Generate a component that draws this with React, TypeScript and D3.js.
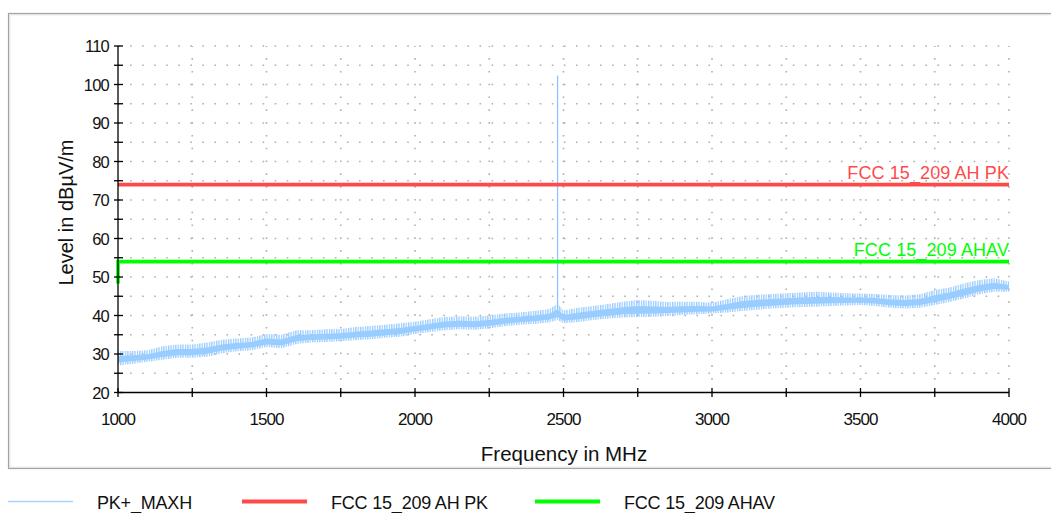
import React from 'react';
import * as d3 from 'd3';

// ---- data ----
const traceFreq = [
  1000, 1050, 1100, 1150, 1200, 1250, 1300, 1350, 1400, 1450,
  1500, 1550, 1600, 1650, 1700, 1750, 1800, 1850, 1900, 1950,
  2000, 2050, 2100, 2150, 2200, 2250, 2300, 2350, 2400, 2450,
  2480, 2500, 2550, 2600, 2650, 2700, 2750, 2800, 2850, 2900,
  2950, 3000, 3050, 3100, 3150, 3200, 3250, 3300, 3350, 3400,
  3450, 3500, 3550, 3600, 3650, 3700, 3750, 3800, 3850, 3900,
  3950, 4000,
];
const traceLow = [
  27.0, 27.5, 28.0, 28.5, 29.0, 29.0, 29.3, 30.2, 30.7, 31.0,
  31.8, 31.5, 32.6, 33.0, 33.1, 33.3, 33.6, 33.8, 34.2, 34.5,
  35.2, 35.7, 36.2, 36.4, 36.3, 36.6, 37.2, 37.6, 37.8, 38.2,
  38.8, 38.0, 38.3, 38.8, 39.2, 39.5, 39.6, 39.7, 39.9, 40.1,
  40.3, 40.5, 40.8, 41.2, 41.5, 41.8, 42.0, 42.2, 42.3, 42.5,
  42.6, 42.7, 42.5, 42.0, 41.8, 42.0, 42.7, 43.5, 44.4, 45.5,
  46.2, 46.2,
];
const traceHigh = [
  30.8, 30.8, 31.0, 32.0, 32.5, 32.5, 33.0, 33.7, 34.0, 34.3,
  35.2, 35.0, 36.2, 36.2, 36.4, 36.5, 37.0, 37.3, 37.6, 38.0,
  38.4, 39.0, 39.6, 39.8, 39.7, 40.0, 40.5, 40.8, 41.2, 41.6,
  43.0, 41.3, 42.0, 42.5, 43.0, 43.6, 44.0, 43.8, 43.5, 43.6,
  43.6, 43.3, 44.2, 45.0, 45.4, 45.6, 45.8, 46.0, 46.2, 46.0,
  45.8, 45.7, 45.6, 45.3, 45.2, 45.5, 46.6, 47.3, 48.4, 49.2,
  49.7, 48.8,
];
const peakFreq = [2480, 2480];
const peakLevel = [41.5, 102.3];

const pkLimitFreq = [1000, 4000];
const pkLimitLevel = [74, 74];
const avLimitFreq = [1000, 1000, 4000];
const avLimitLevel = [48.3, 54, 54];

const xTickLabels = [1000, 1500, 2000, 2500, 3000, 3500, 4000];
const xTicksAll = [1000, 1250, 1500, 1750, 2000, 2250, 2500, 2750, 3000, 3250, 3500, 3750, 4000];
const yTickLabels = [20, 30, 40, 50, 60, 70, 80, 90, 100, 110];
const yTicksAll = [20, 25, 30, 35, 40, 45, 50, 55, 60, 65, 70, 75, 80, 85, 90, 95, 100, 105, 110];
const xGrid = [1250, 1500, 1750, 2000, 2250, 2500, 2750, 3000, 3250, 3500, 3750, 4000];
const yGrid = [25, 30, 35, 40, 45, 50, 55, 60, 65, 70, 75, 80, 85, 90, 95, 100, 105, 110];

const legendNames = ['PK+_MAXH', 'FCC 15_209 AH PK', 'FCC 15_209 AHAV'];
const pkLabel = 'FCC 15_209 AH PK';
const avLabel = 'FCC 15_209 AHAV';

const TRACE = '#99ccff';
const RED = '#ff4a4a';
const GREEN = '#00ff00';
const FONT = '"Liberation Sans", Arial, Helvetica, sans-serif';

type Pt = { f: number; lo: number; hi: number };

export default function App() {
  const x = d3.scaleLinear().domain([1000, 4000]).range([118, 1009]);
  const y = d3.scaleLinear().domain([20, 110]).range([392.5, 46]);

  const band: Pt[] = traceFreq.map((f, i) => ({ f, lo: traceLow[i], hi: traceHigh[i] }));
  const outer = d3
    .area<Pt>()
    .x((d) => x(d.f))
    .y0((d) => y(d.lo))
    .y1((d) => y(d.hi));
  // dense body of the noise band (styling only)
  const inner = d3
    .area<Pt>()
    .x((d) => x(d.f))
    .y0((d) => y(d.lo + (d.hi - d.lo) * 0.2))
    .y1((d) => y(d.hi - (d.hi - d.lo) * 0.35));
  const line = d3
    .line<[number, number]>()
    .x((d) => x(d[0]))
    .y((d) => y(d[1]));

  const pkPts = pkLimitFreq.map((f, i) => [f, pkLimitLevel[i]] as [number, number]);
  const avPts = avLimitFreq.map((f, i) => [f, avLimitLevel[i]] as [number, number]);
  const peakPts = peakFreq.map((f, i) => [f, peakLevel[i]] as [number, number]);

  const legend = [
    { name: legendNames[0], color: '#a8d4ff', w: 1.5, x0: 8, tx: 97 },
    { name: legendNames[1], color: RED, w: 4, x0: 242, tx: 331 },
    { name: legendNames[2], color: GREEN, w: 4, x0: 535, tx: 624 },
  ];

  return (
    <svg
      width={1051}
      height={513}
      style={{ position: 'absolute', left: 0, top: 0, background: '#fff' }}
      fontFamily={FONT}
    >
      <defs>
        <pattern id="comb" width={2.4} height={6} patternUnits="userSpaceOnUse">
          <rect x={0} y={0} width={1.3} height={6} fill={TRACE} />
        </pattern>
      </defs>

      {/* frame */}
      <rect x={8.5} y={13.5} width={1050} height={455} fill="none" stroke="#a4a4a4" strokeWidth={1.2} />
      <rect x={9.8} y={14.8} width={1050} height={452.4} fill="none" stroke="#dedede" strokeWidth={1} />

      {/* grid */}
      {yGrid.map((v) => (
        <line
          key={'hg' + v}
          x1={x(1000)}
          x2={x(4000)}
          y1={y(v)}
          y2={y(v)}
          stroke="#b0b0b0"
          strokeWidth={1.6}
          strokeDasharray="1.6 10.45"
        />
      ))}
      {xGrid.map((v) => (
        <line
          key={'vg' + v}
          x1={x(v)}
          x2={x(v)}
          y1={y(20)}
          y2={y(110)}
          stroke="#b0b0b0"
          strokeWidth={1.6}
          strokeDasharray="1.6 11.2"
        />
      ))}

      {/* trace */}
      <path d={outer(band) || ''} fill="url(#comb)" />
      <path d={inner(band) || ''} fill={TRACE} />
      <path d={line(peakPts) || ''} fill="none" stroke="#8cc4ff" strokeWidth={1.3} />

      {/* limit lines */}
      <path d={line(pkPts) || ''} fill="none" stroke={RED} strokeWidth={3.6} />
      <path d={line(avPts) || ''} fill="none" stroke={GREEN} strokeWidth={3.6} />
      <text x={x(4000)} y={178.5} textAnchor="end" fontSize={18} fill={RED} letterSpacing={0.1}>
        {pkLabel}
      </text>
      <text x={x(4000)} y={256} textAnchor="end" fontSize={18} fill={GREEN} letterSpacing={0.1}>
        {avLabel}
      </text>

      {/* axes */}
      <line x1={x(1000)} x2={x(1000)} y1={y(110)} y2={y(20)} stroke="#000" strokeWidth={1.3} />
      <line x1={x(1000)} x2={x(4000)} y1={y(20)} y2={y(20)} stroke="#000" strokeWidth={1.3} />
      {yTicksAll.map((v) => (
        <line key={'yt' + v} x1={114} x2={123} y1={y(v)} y2={y(v)} stroke="#000" strokeWidth={1.3} />
      ))}
      {xTicksAll.map((v) => (
        <line key={'xt' + v} x1={x(v)} x2={x(v)} y1={388} y2={397} stroke="#000" strokeWidth={1.3} />
      ))}
      {yTickLabels.map((v) => (
        <text key={'yl' + v} x={109} y={y(v) + 6} textAnchor="end" fontSize={16.5} letterSpacing={-0.8} fill="#111">
          {v}
        </text>
      ))}
      {xTickLabels.map((v) => (
        <text key={'xl' + v} x={x(v)} y={425} textAnchor="middle" fontSize={17} letterSpacing={-0.9} fill="#111">
          {v}
        </text>
      ))}

      {/* axis titles */}
      <text x={564} y={460.5} textAnchor="middle" fontSize={20.5} fill="#111">
        Frequency in MHz
      </text>
      <text
        transform="translate(73,212.5) rotate(-90)"
        textAnchor="middle"
        fontSize={20}
        fill="#111"
      >
        Level in dBµV/m
      </text>

      {/* legend */}
      {legend.map((d) => (
        <g key={d.name}>
          <line x1={d.x0} x2={d.x0 + 65} y1={501.5} y2={501.5} stroke={d.color} strokeWidth={d.w} />
          <text x={d.tx} y={509} fontSize={18} fill="#111" letterSpacing={-0.2}>
            {d.name}
          </text>
        </g>
      ))}
    </svg>
  );
}
